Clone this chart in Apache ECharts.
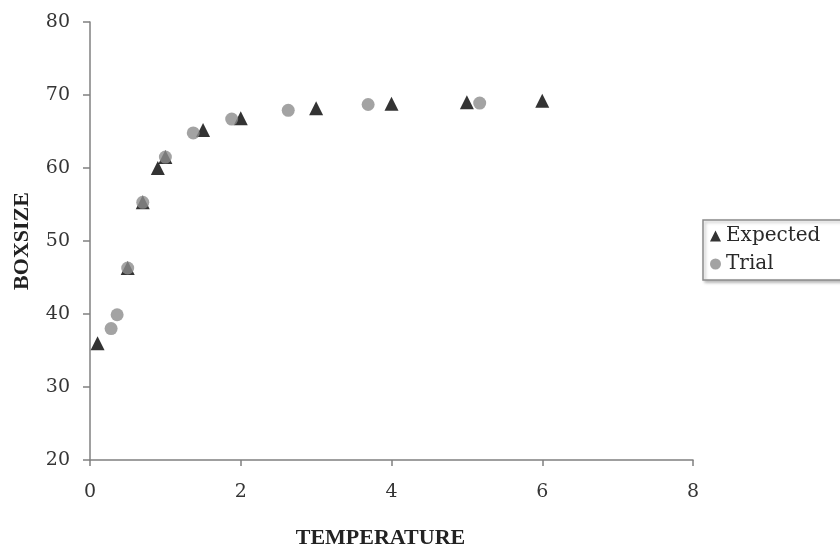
<!DOCTYPE html>
<html>
<head>
<meta charset="utf-8">
<script src="https://cdn.jsdelivr.net/npm/echarts@6/dist/echarts.min.js"></script>
<style>html,body{margin:0;padding:0;background:#fff}#c{width:840px;height:546px}</style>
</head>
<body>
<div id="c"></div>
<script>
var expectedX = [0.1, 0.5, 0.7, 0.9, 1.0, 1.5, 2.0, 3.0, 4.0, 5.0, 6.0];
var expectedY = [36.0, 46.3, 55.3, 60.0, 61.5, 65.2, 66.8, 68.2, 68.8, 69.0, 69.2];
var trialX = [0.28, 0.36, 0.5, 0.7, 1.0, 1.37, 1.88, 2.63, 3.69, 5.17];
var trialY = [38.0, 39.9, 46.3, 55.3, 61.5, 64.8, 66.7, 67.9, 68.7, 68.9];
var xTicks = [0, 2, 4, 6, 8];
var yTicks = [20, 30, 40, 50, 60, 70, 80];

function pairs(xs, ys) { return xs.map(function (x, i) { return [x, ys[i]]; }); }

var chart = echarts.init(document.getElementById('c'), null, {renderer: 'canvas'});
var tickFont = {fontFamily: 'DejaVu Serif', fontSize: 19, color: '#353535'};
chart.setOption({
  animation: false,
  backgroundColor: '#ffffff',
  grid: {left: 90, right: 147, top: 22, bottom: 86, containLabel: false, outerBoundsMode: 'none'},
  xAxis: {
    type: 'value', min: xTicks[0], max: xTicks[xTicks.length - 1], interval: 2,
    name: 'TEMPERATURE', nameLocation: 'middle', nameGap: 67,
    nameTextStyle: {fontFamily: 'Liberation Serif', fontWeight: 'bold', fontSize: 22, color: '#222', padding: [0, 22, 0, 0]},
    axisLine: {show: true, onZero: false, lineStyle: {color: '#808080', width: 1.5}},
    axisTick: {show: true, length: 6, lineStyle: {color: '#808080', width: 1.5}},
    axisLabel: Object.assign({margin: 23}, tickFont),
    splitLine: {show: false}
  },
  yAxis: {
    type: 'value', min: yTicks[0], max: yTicks[yTicks.length - 1], interval: 10,
    name: 'BOXSIZE', nameLocation: 'middle', nameGap: 57, nameRotate: 90,
    nameTextStyle: {fontFamily: 'Liberation Serif', fontWeight: 'bold', fontSize: 22, color: '#222'},
    axisLine: {show: true, onZero: false, lineStyle: {color: '#808080', width: 1.5}},
    axisTick: {show: true, length: 7, lineStyle: {color: '#808080', width: 1.5}},
    axisLabel: Object.assign({margin: 20}, tickFont),
    splitLine: {show: false}
  },
  legend: {
    left: 703, top: 220, orient: 'vertical',
    data: [{name: 'Expected', icon: 'triangle'}, {name: 'Trial', icon: 'circle'}],
    itemWidth: 11, itemHeight: 11, itemGap: 8,
    padding: [6, 40, 6, 7],
    backgroundColor: '#fff', borderColor: '#8a8a8a', borderWidth: 1.5,
    shadowColor: 'rgba(0,0,0,0.25)', shadowBlur: 3, shadowOffsetX: 2, shadowOffsetY: 2,
    textStyle: {fontFamily: 'DejaVu Serif', fontSize: 20, color: '#2a2a2a', padding: [0, 0, 0, 0]}
  },
  series: [
    {name: 'Expected', type: 'scatter', symbol: 'triangle', symbolSize: 14,
     itemStyle: {color: '#000'}, data: pairs(expectedX, expectedY), z: 2},
    {name: 'Trial', type: 'scatter', symbol: 'circle', symbolSize: 13,
     itemStyle: {color: '#8c8c8c'}, data: pairs(trialX, trialY), z: 3}
  ]
});
</script>
</body>
</html>
